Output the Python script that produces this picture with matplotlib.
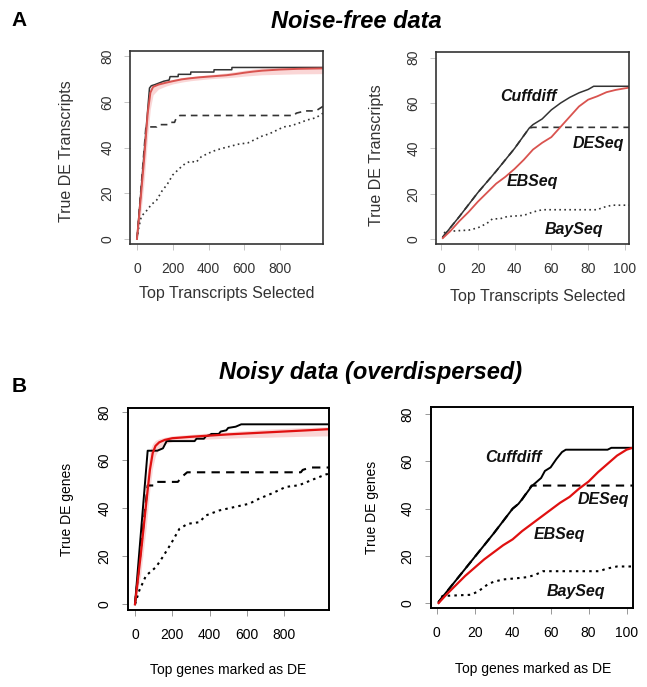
import matplotlib
matplotlib.use('Agg')
import matplotlib.pyplot as plt

plt.rcParams['font.family'] = ['Liberation Sans', 'DejaVu Sans']

W, H = 647, 687

# ---------------- data ----------------
# A left: noise-free, top 1000
aL_cuff_x = [0, 70, 80, 100, 150, 180, 185, 230, 231, 300, 301, 430, 431, 530, 531, 1045]
aL_cuff_y = [0, 66, 67, 67.5, 69, 69.5, 71, 71, 72, 72, 73, 73, 74, 74, 75, 75]
aL_eb_x = [0, 20, 40, 60, 75, 90, 120, 160, 200, 250, 300, 350, 400, 450, 500, 550, 600, 650, 700, 800, 900, 1045]
aL_eb_y = [0, 17, 35, 55, 64, 66.5, 67.5, 68.3, 69, 69.8, 70.3, 70.7, 71, 71.3, 71.6, 72.1, 72.7, 73.2, 73.6, 74.1, 74.4, 74.6]
aL_eb_lo = [0, 10, 25, 45, 57, 63, 65.5, 66.8, 67.8, 68.6, 69.2, 69.6, 70, 70.3, 70.5, 70.8, 71.2, 71.5, 71.8, 72, 72.2, 72.3]
aL_eb_hi = [0, 20, 40, 62, 66, 67.5, 68.5, 69.2, 69.8, 70.6, 71, 71.4, 71.8, 72.2, 72.6, 73.2, 73.8, 74.3, 74.8, 75.2, 75.5, 75.6]
aL_de_x = [0, 50, 110, 120, 180, 190, 210, 220, 240, 880, 890, 940, 1000, 1040]
aL_de_y = [0, 49, 49, 50, 50, 51, 51, 53, 54, 54, 55, 56, 56, 58]
aL_bay_x = [0, 10, 25, 50, 80, 110, 140, 170, 200, 240, 270, 300, 330, 360, 400, 430, 470, 520, 570,
            620, 660, 700, 740, 780, 820, 860, 900, 950, 1000, 1040]
aL_bay_y = [0, 5, 10, 12, 15, 17, 21, 24, 28, 31, 33, 34, 33.5, 36, 37.5, 38.5, 39.5, 40.5, 41.5,
            42, 43.5, 45, 46, 47.5, 49, 49.5, 50.5, 52, 53, 55]

# A right: noise-free, top 100
aR_cuff_x = [1, 10, 20, 30, 40, 48, 50, 55, 60, 65, 70, 75, 80, 83, 104]
aR_cuff_y = [1, 10, 20.5, 30, 40, 49, 50.5, 53, 57, 60, 62.5, 64.5, 66, 67.4, 67.4]
aR_eb_x = [1, 5, 10, 15, 20, 25, 30, 35, 40, 45, 50, 55, 60, 65, 70, 75, 80, 85, 90, 95, 100, 104]
aR_eb_y = [0.5, 3.5, 8, 12, 16.5, 20.5, 24.5, 27.5, 31, 35, 39.5, 42.5, 45, 49.5, 54, 58.5, 61.5, 63, 64.8, 65.8, 66.5, 67]
aR_de_x = [1, 10, 20, 30, 40, 48, 50, 104]
aR_de_y = [1, 10, 20.5, 30, 40, 49, 49.3, 49.3]
aR_bay_x = [1, 2, 5, 10, 15, 20, 25, 28, 32, 36, 45, 50, 55, 60, 85, 88, 93, 104]
aR_bay_y = [0.5, 3, 3.5, 3.8, 4, 5, 7, 9, 9, 10, 10.5, 12, 13, 13, 13, 14, 15, 15]

# B left: noisy, top 1000
bL_cuff_x = [0, 68, 120, 150, 170, 320, 330, 370, 380, 400, 410, 450, 460, 490, 500, 540, 570, 1045]
bL_cuff_y = [0, 64, 64, 65, 68, 68, 69, 69, 70, 70.5, 71, 71, 72, 72.5, 73.5, 74, 75, 75]
bL_eb_x = [0, 30, 60, 80, 95, 110, 130, 160, 200, 300, 400, 500, 600, 700, 800, 900, 1045]
bL_eb_y = [0, 20, 42, 56, 63, 66, 67.5, 68.5, 69.2, 69.8, 70.3, 70.8, 71.2, 71.6, 72, 72.4, 73]
bL_eb_lo = [0, 12, 32, 48, 57, 62, 65, 66.8, 67.8, 68.6, 68.9, 69.2, 69.5, 69.6, 69.8, 70, 70.2]
bL_eb_hi = [0, 26, 52, 64, 67, 68.3, 69, 69.6, 70.2, 70.8, 71.4, 71.9, 72.4, 72.9, 73.3, 73.6, 74]
bL_de_x = [0, 68, 100, 110, 230, 250, 280, 890, 900, 940, 1045]
bL_de_y = [0, 49.5, 49.5, 51, 51, 53, 55, 55, 56, 57, 57]
bL_bay_x = [0, 23, 59, 113, 148, 193, 238, 282, 345, 380, 452, 613, 666, 738, 809, 880, 952, 1024, 1045]
bL_bay_y = [0, 5.7, 11.9, 15.5, 19.6, 25.2, 31.4, 33.5, 34.2, 37, 39.1, 41.9, 44, 46.3, 48.9, 49.6, 51.9, 54.1, 54.5]

# B right: noisy, top 100
bR_cuff_x = [1, 10, 20, 30, 40, 43, 45, 50, 55, 57, 60, 63, 66, 68, 90, 92, 104]
bR_cuff_y = [0.5, 9.5, 19.5, 29.5, 40, 42, 44, 49.5, 53, 56, 57.5, 61, 64, 65, 65, 65.8, 65.8]
bR_eb_x = [1, 5, 10, 15, 20, 25, 30, 35, 40, 45, 50, 55, 60, 65, 70, 75, 80, 85, 90, 95, 100, 104]
bR_eb_y = [0, 3.5, 7.5, 11.5, 15, 18.5, 21.5, 24.5, 27, 30.5, 33.5, 36.5, 39.5, 42.5, 45, 48.5, 51.5, 55.5, 59, 62.5, 65, 66]
bR_de_x = [1, 10, 20, 30, 40, 43, 45, 50, 104]
bR_de_y = [0.5, 9.5, 19.5, 29.5, 40, 42, 44, 49.8, 49.8]
bR_bay_x = [1, 3, 18, 22, 27, 30, 35, 42, 48, 52, 56, 86, 89, 95, 104]
bR_bay_y = [0, 3, 3.5, 5, 8, 9, 10, 10.5, 11, 12, 13.5, 13.5, 14.5, 15.5, 15.5]

method_names = ['Cuffdiff', 'DESeq', 'EBSeq', 'BaySeq']

# ---------------- figure ----------------
fig = plt.figure(figsize=(W/100, H/100), dpi=100)


def px_axes(l, t, r, b):
    return fig.add_axes([l/W, 1 - b/H, (r - l)/W, (b - t)/H])


def ftext(x, y, s, **kw):
    fig.text(x/W, 1 - y/H, s, ha='center', va='center', **kw)


def style_axes(ax, xticks, xlim, ylim, fc, tc, lw_box, pad_x, pad_y):
    ax.set_xlim(xlim)
    ax.set_ylim(ylim)
    ax.set_xticks(xticks)
    ax.set_yticks([0, 20, 40, 60, 80])
    for s in ax.spines.values():
        s.set_color(fc)
        s.set_linewidth(lw_box)
    ax.tick_params(axis='x', length=4, width=0.6, color=tc, labelcolor=fc, labelsize=10, pad=pad_x)
    ax.tick_params(axis='y', length=4, width=0.6, color=tc, labelcolor=fc, labelsize=10, pad=pad_y)
    for lab in ax.get_yticklabels():
        lab.set_rotation(90)
        lab.set_va('center')


grayA = '#333333'
redA = '#d9534f'
redB = '#e01010'
pink = '#f4a6a6'

# --- A left
ax = px_axes(130, 51, 323, 244)
ax.fill_between(aL_eb_x, aL_eb_lo, aL_eb_hi, color=pink, alpha=0.45, lw=0)
ax.plot(aL_bay_x, aL_bay_y, color=grayA, lw=1.2, dashes=(1, 2))
ax.plot(aL_de_x, aL_de_y, color=grayA, lw=1.2, dashes=(4, 3))
ax.plot(aL_cuff_x, aL_cuff_y, color=grayA, lw=1.1)
ax.plot(aL_eb_x, aL_eb_y, color=redA, lw=1.4)
style_axes(ax, [0, 200, 400, 600, 800], (-39, 1040), (-2.2, 82.2), grayA, '#bbbbbb', 1.2, 9, 7)

# --- A right
ax = px_axes(436, 52, 629, 244)
ax.plot(aR_bay_x, aR_bay_y, color=grayA, lw=1.2, dashes=(1, 2))
ax.plot(aR_de_x, aR_de_y, color=grayA, lw=1.2, dashes=(4, 3))
ax.plot(aR_cuff_x, aR_cuff_y, color=grayA, lw=1.1)
ax.plot(aR_eb_x, aR_eb_y, color=redA, lw=1.3)
style_axes(ax, [0, 20, 40, 60, 80, 100], (-2.7, 102.2), (-2.1, 82.5), grayA, '#bbbbbb', 1.2, 9, 7)
lab_pos = [(47.6, 63.1), (85.7, 42.2), (49.5, 25.3), (72.1, 4.4)]
for name, (x, y) in zip(method_names, lab_pos):
    ax.text(x, y, name, ha='center', va='center', fontsize=11.5, fontweight='bold',
            fontstyle='italic', color='#111111')

# --- B left
ax = px_axes(128, 408, 329, 610)
ax.fill_between(bL_eb_x, bL_eb_lo, bL_eb_hi, color=pink, alpha=0.45, lw=0)
ax.plot(bL_bay_x, bL_bay_y, color='black', lw=1.5, dashes=(1.2, 2))
ax.plot(bL_de_x, bL_de_y, color='black', lw=1.5, dashes=(4, 3))
ax.plot(bL_cuff_x, bL_cuff_y, color='black', lw=1.4)
ax.plot(bL_eb_x, bL_eb_y, color=redB, lw=1.6)
style_axes(ax, [0, 200, 400, 600, 800], (-37.5, 1041), (-2.4, 81.8), 'black', '#888888', 1.4, 9, 8)

# --- B right
ax = px_axes(431, 407, 633, 608)
ax.plot(bR_bay_x, bR_bay_y, color='black', lw=1.5, dashes=(1.2, 2))
ax.plot(bR_de_x, bR_de_y, color='black', lw=1.5, dashes=(4, 3))
ax.plot(bR_cuff_x, bR_cuff_y, color='black', lw=1.4)
ax.plot(bR_eb_x, bR_eb_y, color=redB, lw=1.6)
style_axes(ax, [0, 20, 40, 60, 80, 100], (-3.0, 103.4), (-2.1, 83.1), 'black', '#888888', 1.4, 9, 8)
lab_pos = [(40.5, 61.7), (88, 43.9), (64.8, 29.1), (73.6, 5.1)]
for name, (x, y) in zip(method_names, lab_pos):
    ax.text(x, y, name, ha='center', va='center', fontsize=11.5, fontweight='bold',
            fontstyle='italic', color='#111111')

# ---------------- labels and titles ----------------
ftext(19, 20, 'A', fontsize=15, fontweight='bold')
ftext(19, 387, 'B', fontsize=15, fontweight='bold')
ftext(356, 22, 'Noise-free data', fontsize=17, fontweight='bold', fontstyle='italic')
ftext(371, 373, 'Noisy data (overdispersed)', fontsize=17, fontweight='bold', fontstyle='italic')

ftext(67, 151, 'True DE Transcripts', fontsize=11.5, rotation=90, color=grayA)
ftext(227, 293, 'Top Transcripts Selected', fontsize=11.5, color=grayA)
ftext(377, 155, 'True DE Transcripts', fontsize=11.5, rotation=90, color=grayA)
ftext(538, 297, 'Top Transcripts Selected', fontsize=11.5, color=grayA)

ftext(67, 509, 'True DE genes', fontsize=10, rotation=90)
ftext(228, 670, 'Top genes marked as DE', fontsize=10)
ftext(372, 507, 'True DE genes', fontsize=10, rotation=90)
ftext(533, 669, 'Top genes marked as DE', fontsize=10)

fig.savefig('out.png', dpi=100)
